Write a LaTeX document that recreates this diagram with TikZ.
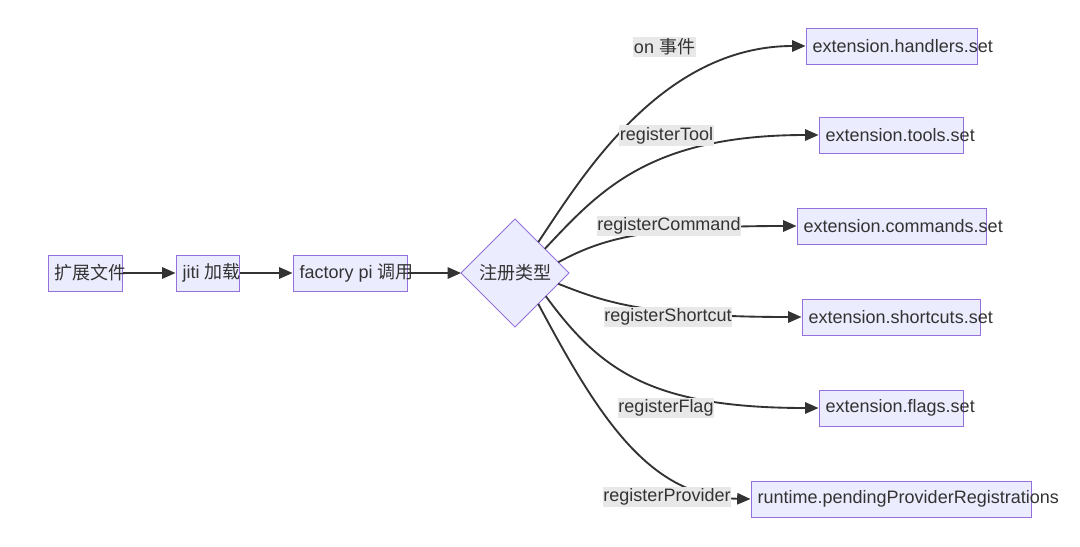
\documentclass[tikz,border=0pt]{standalone}
\usepackage{fontspec}
\setmainfont{Liberation Sans}
\newfontfamily\cjk{Noto Sans CJK SC}
\usetikzlibrary{arrows.meta,shapes.geometric}
\definecolor{nodefill}{HTML}{ECECFF}
\definecolor{nodeline}{HTML}{9370DB}
\definecolor{labelbg}{HTML}{E8E8E8}
\definecolor{ink}{HTML}{333333}
\tikzstyle{boxnode} = [draw=nodeline, fill=nodefill, line width=0.75pt, inner sep=0pt, minimum height=27pt, text=ink]
\tikzstyle{choice} = [diamond, draw=nodeline, fill=nodefill, line width=0.75pt, minimum width=81pt, minimum height=81pt, inner sep=0pt, outer sep=0pt, text=ink]
\tikzstyle{edgelabel} = [fill=labelbg, inner xsep=0.5pt, inner ysep=1.5pt, text=ink]
\tikzstyle{flow} = [draw=ink, line width=1.4pt, -{Triangle[length=10pt,width=8.5pt]}]
\tikzset{font={\fontsize{13.5pt}{16pt}\selectfont}}
\newcommand{\boxtext}[2]{\makebox[#1][l]{\hspace{5pt}#2}}

\begin{document}
\begin{tikzpicture}[x=0.75pt, y=-0.75pt]
  \useasboundingbox (0,0) rectangle (1080,546);

  % loading chain
  \node[at={(85,273)}, boxnode] (ext) {\boxtext{55.5pt}{\cjk 扩展文件}};
  \node[at={(207.5,273)}, boxnode] (jiti) {\boxtext{47.25pt}{jiti {\cjk 加载}}};
  \node[at={(350,273)}, boxnode] (factory) {\boxtext{85.5pt}{factory pi {\cjk 调用}}};
  \node[at={(515,273)}, choice] (reg) {\cjk 注册类型};

  % targets
  \node[at={(891.5,46)}, boxnode] (hand) {\boxtext{128.25pt}{extension.handlers.set}};
  \node[at={(891,135)}, boxnode] (tools) {\boxtext{108pt}{extension.tools.set}};
  \node[at={(891.5,226)}, boxnode] (cmds) {\boxtext{141.75pt}{extension.commands.set}};
  \node[at={(891,317)}, boxnode] (keys) {\boxtext{133.5pt}{extension.shortcuts.set}};
  \node[at={(891,408)}, boxnode] (flags) {\boxtext{108pt}{extension.flags.set}};
  \node[at={(891,499)}, boxnode] (prov) {\boxtext{210pt}{runtime.pendingProviderRegistrations}};

  \draw[flow] (ext) -- (jiti);
  \draw[flow] (jiti) -- (factory);
  \draw[flow] (factory) -- (reg);

  \draw[flow] (reg.53) .. controls (580,180) and (660,46) .. (hand.west);
  \draw[flow] (reg.39) .. controls (600,190) and (650,135) .. (tools.west);
  \draw[flow] (reg.14) .. controls (600,240) and (640,226) .. (cmds.west);
  \draw[flow] (reg.-14) .. controls (600,300) and (640,317) .. (keys.west);
  \draw[flow] (reg.-37) .. controls (600,370) and (650,408) .. (flags.west);
  \draw[flow] (reg.-53) .. controls (600,420) and (650,497) .. (prov.west);

  % edge labels
  \node[at={(664.5,47)}, edgelabel] (lon) {on {\cjk 事件}};
  \node[at={(666.5,135.5)}, edgelabel] (ltool) {registerTool};
  \node[at={(669,226)}, edgelabel] (lcmd) {registerCommand};
  \node[at={(668,317)}, edgelabel] (lkey) {registerShortcut};
  \node[at={(666,408)}, edgelabel] (lflag) {registerFlag};
  \node[at={(667,497)}, edgelabel] (lprov) {registerProvider};
\end{tikzpicture}
\end{document}
